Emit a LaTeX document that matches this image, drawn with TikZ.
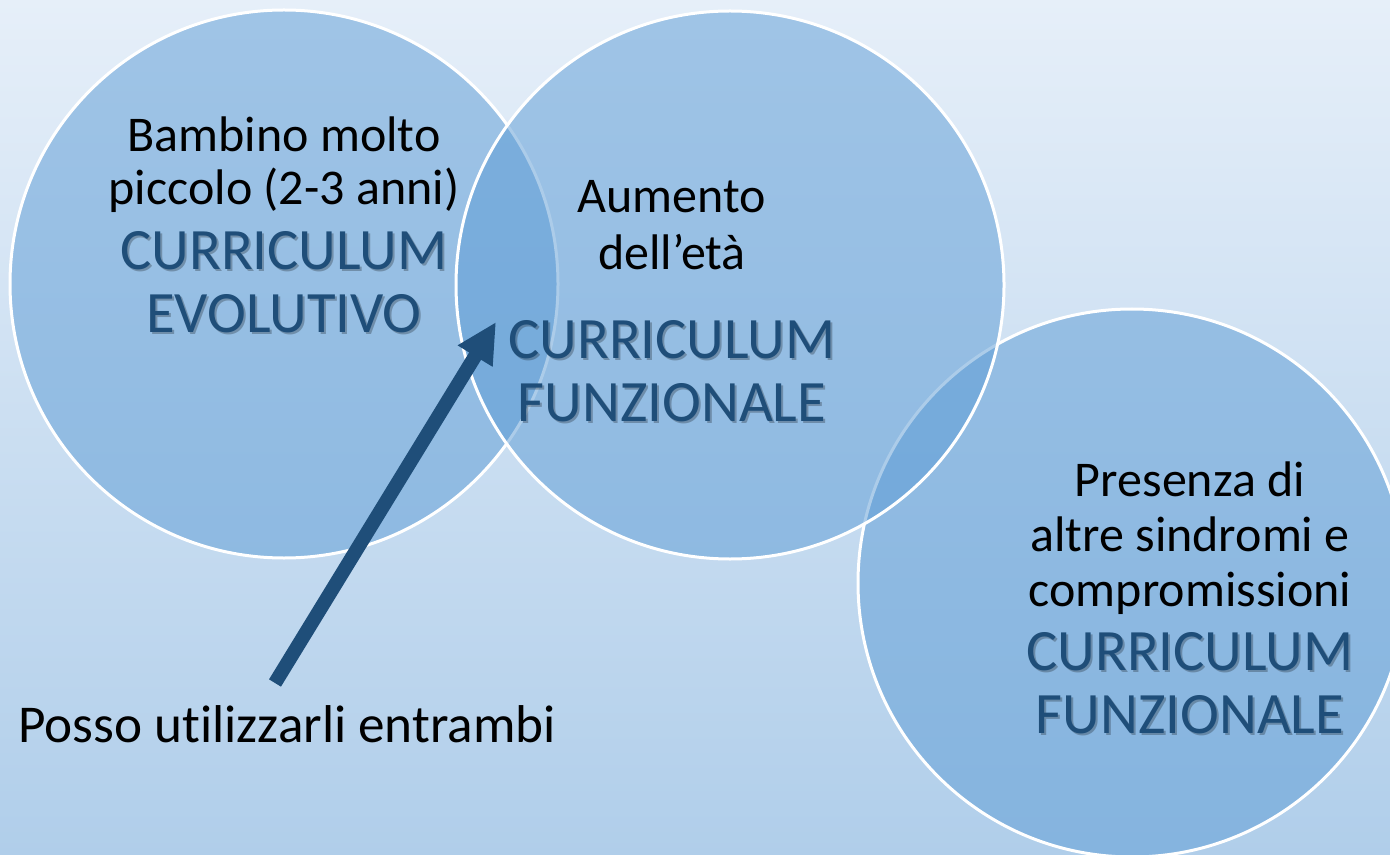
\documentclass[tikz,border=0pt]{standalone}
\usepackage{fontspec}
\setmainfont[Ligatures=NoCommon]{Carlito}
\usetikzlibrary{arrows.meta}
\definecolor{bgtop}{RGB}{230,239,249}
\definecolor{bgbot}{RGB}{176,206,234}
\definecolor{circfill}{RGB}{91,155,213}
\definecolor{darkblue}{RGB}{31,78,121}
\begin{document}
\begin{tikzpicture}[x=0.5pt,y=-0.5pt,
  circ/.style={circle,minimum size=274pt,inner sep=0pt,fill=circfill,fill opacity=0.5,draw=white,draw opacity=1,line width=1.5pt},
  blk/.style={anchor=base,inner sep=0pt,text=black,font=\fontsize{25}{30}\selectfont},
  cur/.style={anchor=base,inner sep=0pt,text=darkblue,font=\fontsize{29.3}{35}\selectfont},
  shd/.style={anchor=base,inner sep=0pt,text=black,text opacity=0.25,font=\fontsize{29.3}{35}\selectfont},
  arr/.style={draw=darkblue,line width=7pt,-{Triangle[length=20pt,width=19pt]}}]
\useasboundingbox (0,0) rectangle (1390,855);
\begin{scope}
\clip (0,0) rectangle (1390,855);
\fill[top color=bgtop,bottom color=bgbot] (0,0) rectangle (1390,855);
\node[circ] (c1) at (284,284) {};
\node[circ] (c3) at (1132,583) {};
\node[circ] (c2) at (730,285) {};
\end{scope}
% left circle texts
\node[blk] (t11) at (284,152) {Bambino molto};
\node[blk] (t12) at (284,205) {piccolo (2-3 anni)};
\node[shd] (s13) at (286,272) {CURRICULUM};
\node[shd] (s14) at (286,335) {EVOLUTIVO};
\node[cur] (t13) at (284,270) {CURRICULUM};
\node[cur] (t14) at (284,333) {EVOLUTIVO};
% middle circle texts
\node[blk] (t21) at (672,213) {Aumento};
\node[blk] (t22) at (672,270) {dell’età};
\node[shd] (s23) at (674,360) {CURRICULUM};
\node[shd] (s24) at (674,423) {FUNZIONALE};
\node[cur] (t23) at (672,358) {CURRICULUM};
\node[cur] (t24) at (672,421) {FUNZIONALE};
% right circle texts
\node[blk] (t31) at (1190,496) {Presenza di};
\node[blk] (t32) at (1190,551) {altre sindromi e};
\node[blk] (t33) at (1190,606) {compromissioni};
\node[shd] (s34) at (1192,672) {CURRICULUM};
\node[shd] (s35) at (1192,735) {FUNZIONALE};
\node[cur] (t34) at (1190,670) {CURRICULUM};
\node[cur] (t35) at (1190,733) {FUNZIONALE};
% bottom label and arrow
\node[blk,anchor=base west,font=\fontsize{26.6}{32}\selectfont] (lab) at (18,742) {Posso utilizzarli entrambi};
\coordinate (tail) at (275,683);
\coordinate (tip) at (496,322);
\draw[arr] (tail) -- (tip);
\end{tikzpicture}
\end{document}
